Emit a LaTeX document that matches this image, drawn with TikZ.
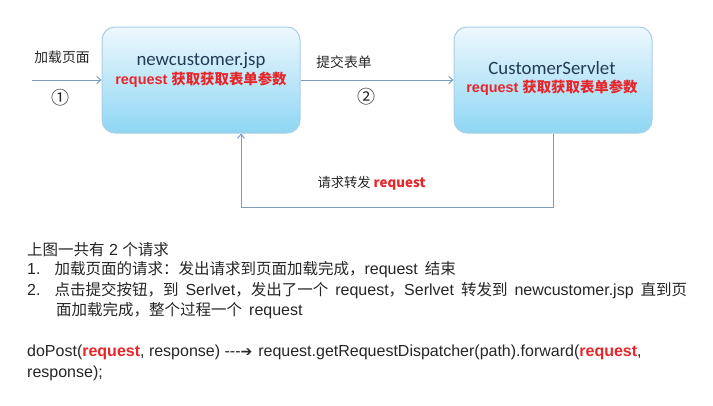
\documentclass[tikz,border=0pt]{standalone}
\usepackage{fontspec}
\usepackage{xcolor}
\usetikzlibrary{arrows.meta, positioning}
\setmainfont{Liberation Sans}
\newfontfamily\cjk{Noto Sans CJK SC}
\newfontfamily\cali{Carlito}
\newfontfamily\symb{DejaVu Sans}
\newcommand\zh[1]{{\cjk\fontsize{15.5}{16}\selectfont #1}}
\newcommand\gap{\hspace{7pt}}
\definecolor{boxline}{HTML}{A9CFE4}
\definecolor{boxtop}{HTML}{EEF8FD}
\definecolor{boxbottom}{HTML}{8ED6F4}
\definecolor{flowline}{HTML}{7E9CC2}
\definecolor{redtext}{HTML}{E8262A}
\definecolor{titletext}{HTML}{243A55}

\tikzset{
  page/.style={rounded corners=13pt, draw=boxline, line width=1pt,
    top color=boxtop, bottom color=boxbottom,
    minimum width=198pt, minimum height=106pt},
  flow/.style={draw=flowline, line width=1pt, -{Straight Barb[length=4pt, width=7pt]}},
  lbl/.style={font=\cjk\fontsize{13.8}{15}\selectfont, text=black!85},
  num/.style={font=\cjk\fontsize{18}{19}\selectfont, text=black!85},
  title/.style={font=\cali\fontsize{18.8}{21}\selectfont, text=titletext},
  redline/.style={font=\bfseries\fontsize{14.4}{16}\selectfont, text=redtext},
  para/.style={anchor=west, inner sep=0pt, font=\fontsize{16}{18}\selectfont, text=black!85}
}

\begin{document}
\begin{tikzpicture}[x=1pt, y=-1pt]
  \useasboundingbox[fill=white] (0,0) rectangle (713,405);

  % the two pages
  \node[page] (jsp) at (201,80) {};
  \node[page] (servlet) at (553,80) {};
  \node[title] (jsptitle) at (201,61) {newcustomer.jsp};
  \node[redline] (jspred) at (201,80) {request {\cjk 获取获取表单参数}};
  \node[title] (servlettitle) at (552,68) {CustomerServlet};
  \node[redline] (servletred) at (552,88) {request {\cjk 获取获取表单参数}};

  % request 1
  \coordinate (start) at (32,80);
  \draw[flow] (start) -- (jsp.west |- start);
  \node[lbl] (load) at (62,57) {加载页面};
  \node[num] (one) at (60,98) {①};

  % request 2 and forward
  \draw[flow] (jsp) -- (servlet);
  \node[lbl] (submit) at (344,62) {提交表单};
  \node[num] (two) at (366,97) {②};
  \coordinate (back) at (241,207);
  \draw[flow] (servlet.south) |- (back) -- (jsp.south -| back);
  \node[lbl, anchor=west, font=\cjk\fontsize{13.3}{15}\selectfont] (forward) at (314,183) {请求转发 {\bfseries\color{redtext}request}};

  % notes below
  \node[para] (l1) at (27,250) {\zh{上图一共有} 2 \zh{个请求}};
  \node[para] (l2) at (27,270) {1.\hspace{14pt}\zh{加载页面的请求：发出请求到页面加载完成，}request\gap\zh{结束}};
  \node[para] (l3) at (27,291) {2.\hspace{14pt}\zh{点击提交按钮，到}\gap Serlvet\zh{，发出了一个}\gap request\zh{，}Serlvet\gap\zh{转发到}\gap newcustomer.jsp\gap\zh{直到页}};
  \node[para] (l4) at (56,311) {\zh{面加载完成，整个过程一个}\gap request};
  \node[para] (l5) at (27,352) {doPost({\bfseries\color{redtext}request}, response) -{}-{}-{\symb\fontsize{14}{16}\selectfont ➔}\hspace{6pt}request.getRequestDispatcher(path).forward({\bfseries\color{redtext}request},};
  \node[para] (l6) at (27,373) {response);};
\end{tikzpicture}
\end{document}
